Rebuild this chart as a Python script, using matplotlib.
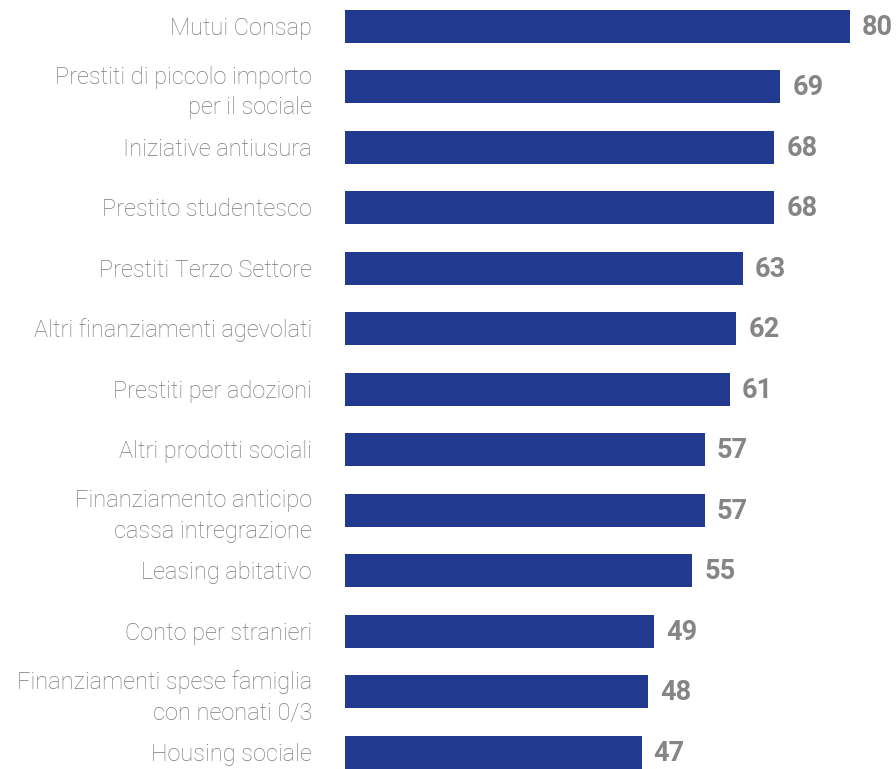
import matplotlib
matplotlib.use("Agg")
import matplotlib.pyplot as plt

plt.rcParams['font.family'] = ['Roboto', 'DejaVu Sans']

categories = [
    "Mutui Consap",
    "Prestiti di piccolo importo\nper il sociale",
    "Iniziative antiusura",
    "Prestito studentesco",
    "Prestiti Terzo Settore",
    "Altri finanziamenti agevolati",
    "Prestiti per adozioni",
    "Altri prodotti sociali",
    "Finanziamento anticipo\ncassa intregrazione",
    "Leasing abitativo",
    "Conto per stranieri",
    "Finanziamenti spese famiglia\ncon neonati 0/3",
    "Housing sociale",
]
values = [80, 69, 68, 68, 63, 62, 61, 57, 57, 55, 49, 48, 47]

bar_color = "#213a8f"
label_color = "#7a7a7a"
value_color = "#858585"

fig = plt.figure(figsize=(8.96, 7.69), dpi=100)
ax = fig.add_axes([345 / 896, 0, 1 - 345 / 896, 1])

pos = list(range(len(categories)))
ax.barh(pos, values, height=0.545, color=bar_color)

ax.set_xlim(0, 87.3)
ax.set_ylim(12.28, -0.43)
ax.axis("off")

for p, cat, v in zip(pos, categories, values):
    two_lines = "\n" in cat
    ax.annotate(cat, xy=(0, p), xytext=(-33, -6 if two_lines else -2),
                textcoords="offset pixels",
                ha="right", va="center", fontsize=17, fontweight="light",
                color=label_color, linespacing=1.4, annotation_clip=False)
    ax.annotate(f"{v}", xy=(v, p), xytext=(12, -1), textcoords="offset pixels",
                ha="left", va="center", fontsize=19.5, fontweight="bold",
                color=value_color, annotation_clip=False)

fig.savefig("out.png", dpi=100)
